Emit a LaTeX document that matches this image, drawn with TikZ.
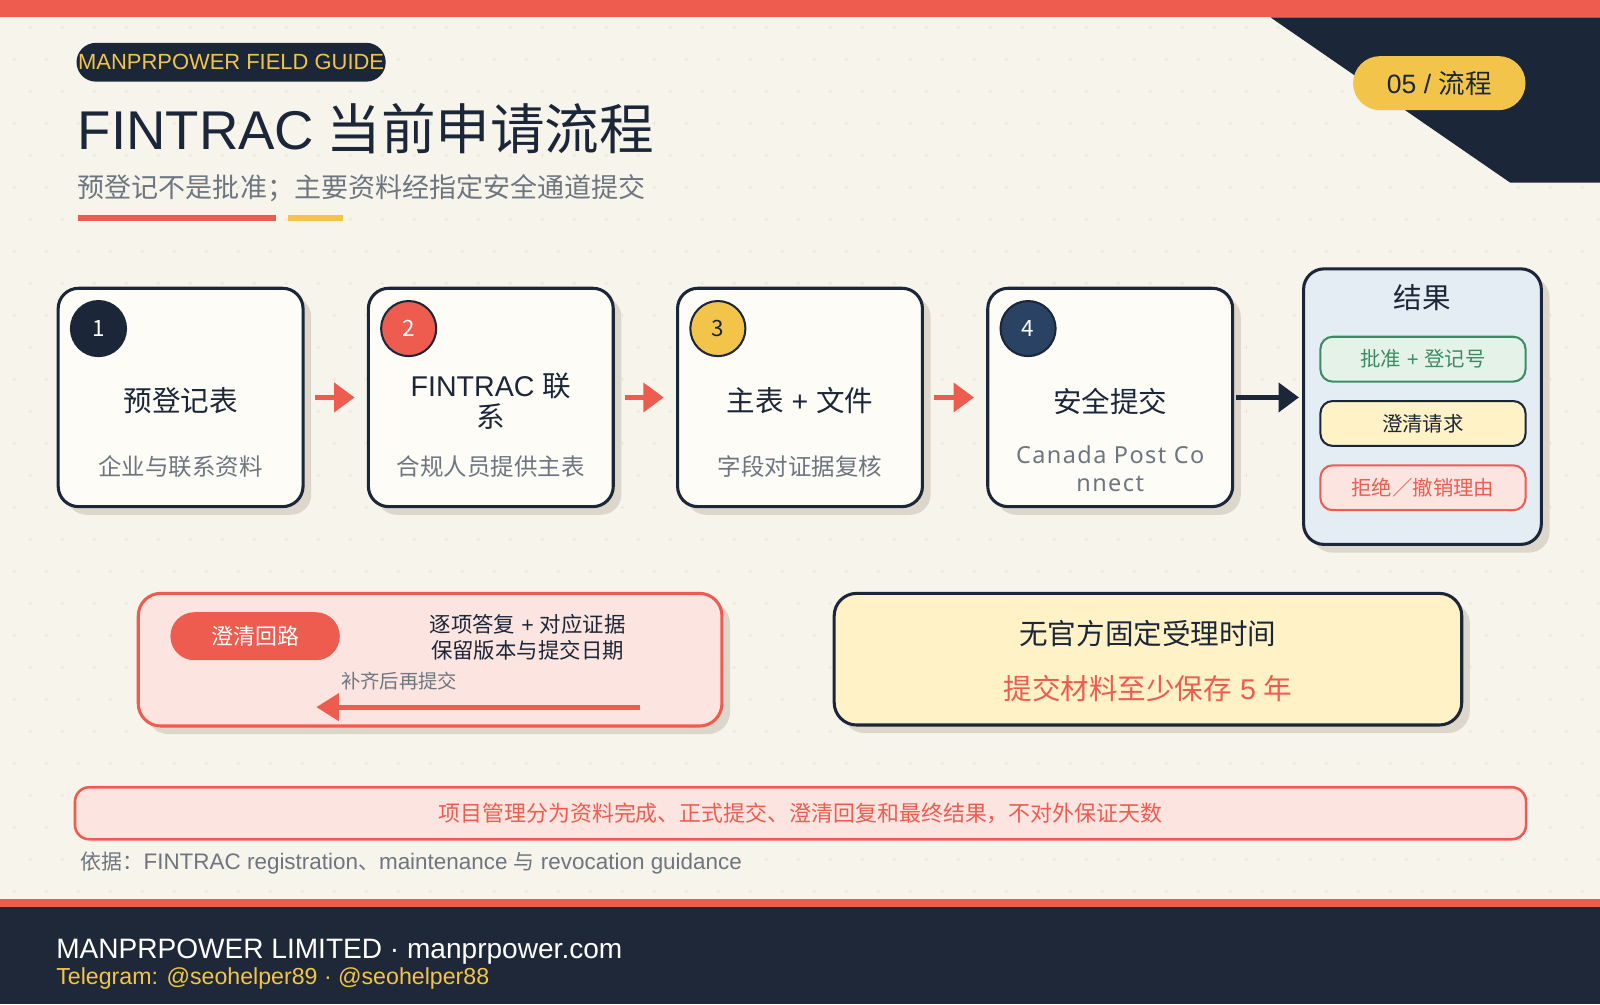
\documentclass[tikz,border=0pt]{standalone}
\usepackage{fontspec}
\setmainfont{Noto Sans CJK SC}
\newfontfamily\latinfont{Liberation Sans}
\newfontfamily\widefont[LetterSpace=6]{Noto Sans}
\usepackage{tikz}
\usetikzlibrary{positioning, arrows.meta, shadows}

\definecolor{pagebg}{HTML}{F7F4EC}
\definecolor{navy}{HTML}{1B2638}
\definecolor{footnavy}{HTML}{1E2839}
\definecolor{coral}{HTML}{EE5C50}
\definecolor{sun}{HTML}{F2C54A}
\definecolor{slate}{HTML}{6D7680}
\definecolor{boxfill}{HTML}{FDFCF7}
\definecolor{shade}{HTML}{DCD7CA}
\definecolor{resfill}{HTML}{E5EDF4}
\definecolor{pinkfill}{HTML}{FCE5E1}
\definecolor{creamfill}{HTML}{FEF2C6}
\definecolor{leaf}{HTML}{3C8B63}
\definecolor{leaffill}{HTML}{E4F2E8}
\definecolor{steel}{HTML}{2A4263}
\definecolor{dotc}{HTML}{ECE8DE}

\begin{document}
\begin{tikzpicture}[
		x=1pt,
		y=1pt,
		shadowed/.style={drop shadow={shadow xshift=8pt, shadow yshift=-8pt, fill=shade, opacity=1}},
		stepbox/.style={draw=navy, line width=3pt, rounded corners=20pt, fill=boxfill, minimum width=240pt, minimum height=214pt, inner sep=0pt, shadowed},
		numdot/.style={circle, draw=navy, line width=2pt, minimum size=54pt, inner sep=0pt, font=\fontsize{22}{26}\selectfont},
		steptitle/.style={align=center, text=navy, font=\fontsize{28}{30}\selectfont},
		stepsub/.style={align=center, text=slate, font=\fontsize{23}{27}\selectfont},
		flow/.style={line width=5pt, -{Triangle[length=20pt, width=28pt]}},
		panel/.style={line width=3pt, rounded corners=22pt, inner sep=0pt, shadowed},
		respill/.style={line width=2pt, rounded corners=12pt, minimum width=201pt, minimum height=44pt, font=\fontsize{20}{24}\selectfont},
		label/.style={inner sep=0pt}
		]
		% Page
		\fill[pagebg] (0,0) rectangle (1568,-984);
		\useasboundingbox (0,0) rectangle (1568,-984);
		\draw[dotc, line width=0.8pt] \foreach \r in {0,...,27} {\foreach \c in {0,...,49} {({13.7+15.7*mod(\r+1,2)+31.36*\c},{-26.5-31.36*\r}) +(-2,0) -- +(2,0) +(0,-2) -- +(0,2)}};
		
		% Header
		\fill[navy] (1245,-17) -- (1568,-17) -- (1568,-179) -- (1480,-179) -- cycle;
		\fill[coral] (0,0) rectangle (1568,-17);
		\node[fill=navy, rounded corners=19pt, minimum width=303pt, minimum height=38pt, inner sep=0pt, text=sun, font={\latinfont\fontsize{21.5}{24}\selectfont}] (tag) at (226.5,-61) {MANPRPOWER FIELD GUIDE};
		\node[label, anchor=base west, text=navy, font=\fontsize{53.5}{60}\selectfont] (title) at (76,-147) {{\latinfont FINTRAC} 当前申请流程};
		\node[label, anchor=west, text=slate, font=\fontsize{26.5}{30}\selectfont] (subtitle) at (76,-184.5) {预登记不是批准；主要资料经指定安全通道提交};
		\fill[coral] (76,-211) rectangle (270,-217);
		\fill[sun] (282,-211) rectangle (336,-217);
		\node[fill=sun, rounded corners=26.5pt, minimum width=169pt, minimum height=53pt, inner sep=0pt, text=navy, font=\fontsize{26}{30}\selectfont] (badge) at (1410.5,-81.5) {{\latinfont 05 / }流程};
		
		% Steps
		\node[stepbox] (s1) at (177,-389.5) {};
		\node[numdot, fill=navy, text=white] (n1) at ([shift={(41,-41)}]s1.north west) {1};
		\node[steptitle] (t1) at ([yshift=-3.5]s1.center) {预登记表};
		\node[stepsub] (d1) at ([yshift=-67.5]s1.center) {企业与联系资料};
		
		\node[stepbox] (s2) at (481,-389.5) {};
		\node[numdot, fill=coral, text=white] (n2) at ([shift={(41,-41)}]s2.north west) {2};
		\node[steptitle] (t2) at ([yshift=-3.5]s2.center) {{\latinfont FINTRAC }联\\系};
		\node[stepsub] (d2) at ([yshift=-67.5]s2.center) {合规人员提供主表};
		
		\node[stepbox] (s3) at (784,-389.5) {};
		\node[numdot, fill=sun, text=navy] (n3) at ([shift={(41,-41)}]s3.north west) {3};
		\node[steptitle] (t3) at ([yshift=-3.5]s3.center) {主表{\latinfont\ + }文件};
		\node[stepsub] (d3) at ([yshift=-67.5]s3.center) {字段对证据复核};
		
		\node[stepbox] (s4) at (1088,-389.5) {};
		\node[numdot, fill=steel, text=white] (n4) at ([shift={(41,-41)}]s4.north west) {4};
		\node[steptitle] (t4) at ([yshift=-3.5]s4.center) {安全提交};
		\node[stepsub, font={\widefont\fontsize{23}{27}\selectfont}] (d4) at ([yshift=-70]s4.center) {Canada Post Co\\nnect};
		
		\draw[flow, coral, shorten <=10pt, shorten >=12pt] (s1) -- (s2);
		\draw[flow, coral, shorten <=10pt, shorten >=12pt] (s2) -- (s3);
		\draw[flow, coral, shorten <=10pt, shorten >=12pt] (s3) -- (s4);
		
		% Outcomes
		\node[panel, draw=navy, fill=resfill, rounded corners=20pt, minimum width=233pt, minimum height=270pt] (res) at (1394,-398.5) {};
		\node[steptitle] (restitle) at (1394,-292) {结果};
		\node[respill, draw=leaf, fill=leaffill, text=leaf] (ok) at (1394.5,-352) {批准{\latinfont\ + }登记号};
		\node[respill, draw=navy, fill=creamfill, text=navy, below=17pt of ok] (ask) {澄清请求};
		\node[respill, draw=coral, fill=pinkfill, text=coral, below=17pt of ask] (deny) {拒绝／撤销理由};
		\draw[flow, navy, shorten <=2pt, shorten >=3pt] (s4.east) -- (s4.east -| res.west);
		
		% Clarification loop
		\node[panel, draw=coral, fill=pinkfill, minimum width=572pt, minimum height=130pt] (loop) at (421.5,-646.5) {};
		\node[fill=coral, rounded corners=23.5pt, minimum width=166pt, minimum height=47pt, inner sep=0pt, text=white, font=\fontsize{21.5}{25}\selectfont] (chip) at (250,-623.5) {澄清回路};
		\node[align=center, text=navy, font=\fontsize{21}{25}\selectfont] (reply) at (517,-624.5) {逐项答复{\latinfont\ + }对应证据\\保留版本与提交日期};
		\node[label, anchor=west, text=slate, font=\fontsize{19}{22}\selectfont] (redo) at (334,-667) {补齐后再提交};
		\coordinate (loopin) at (627,-693);
		\coordinate (loopout) at (310,-693);
		\draw[flow, coral, -{Triangle[length=22pt, width=26pt]}] (loopin) -- (loopout);
		
		% Timing
		\node[panel, draw=navy, fill=creamfill, minimum width=615pt, minimum height=129pt] (wait) at (1125,-646) {};
		\node[steptitle] (waitnote) at (1125,-621) {无官方固定受理时间};
		\node[steptitle, text=coral] (keep) at (1125,-675) {提交材料至少保存{\latinfont\ 5 }年};
		
		% Scope note
		\node[draw=coral, line width=2.5pt, fill=pinkfill, rounded corners=14pt, minimum width=1422pt, minimum height=51pt, text=coral, font=\fontsize{21.5}{25}\selectfont] (scope) at (784.5,-797) {项目管理分为资料完成、正式提交、澄清回复和最终结果，不对外保证天数};
		\node[label, anchor=west, text=slate, font=\fontsize{20.5}{24}\selectfont] (source) at (79,-846) {依据：{\latinfont\fontsize{22}{24}\selectfont FINTRAC registration}、{\latinfont\fontsize{22}{24}\selectfont maintenance }与{\latinfont\fontsize{22}{24}\selectfont\ revocation guidance}};
		
		% Footer
		\fill[coral] (0,-881) rectangle (1568,-889);
		\fill[footnavy] (0,-889) rectangle (1568,-984);
		\node[label, anchor=base west, text=white, font={\latinfont\fontsize{27.5}{32}\selectfont}] (firm) at (55,-939) {MANPRPOWER LIMITED · manprpower.com};
		\node[label, anchor=base west, text=sun, font={\latinfont\fontsize{22.7}{27}\selectfont}] (contact) at (55,-965) {Telegram: @seohelper89 · @seohelper88};
	\end{tikzpicture}
\end{document}
